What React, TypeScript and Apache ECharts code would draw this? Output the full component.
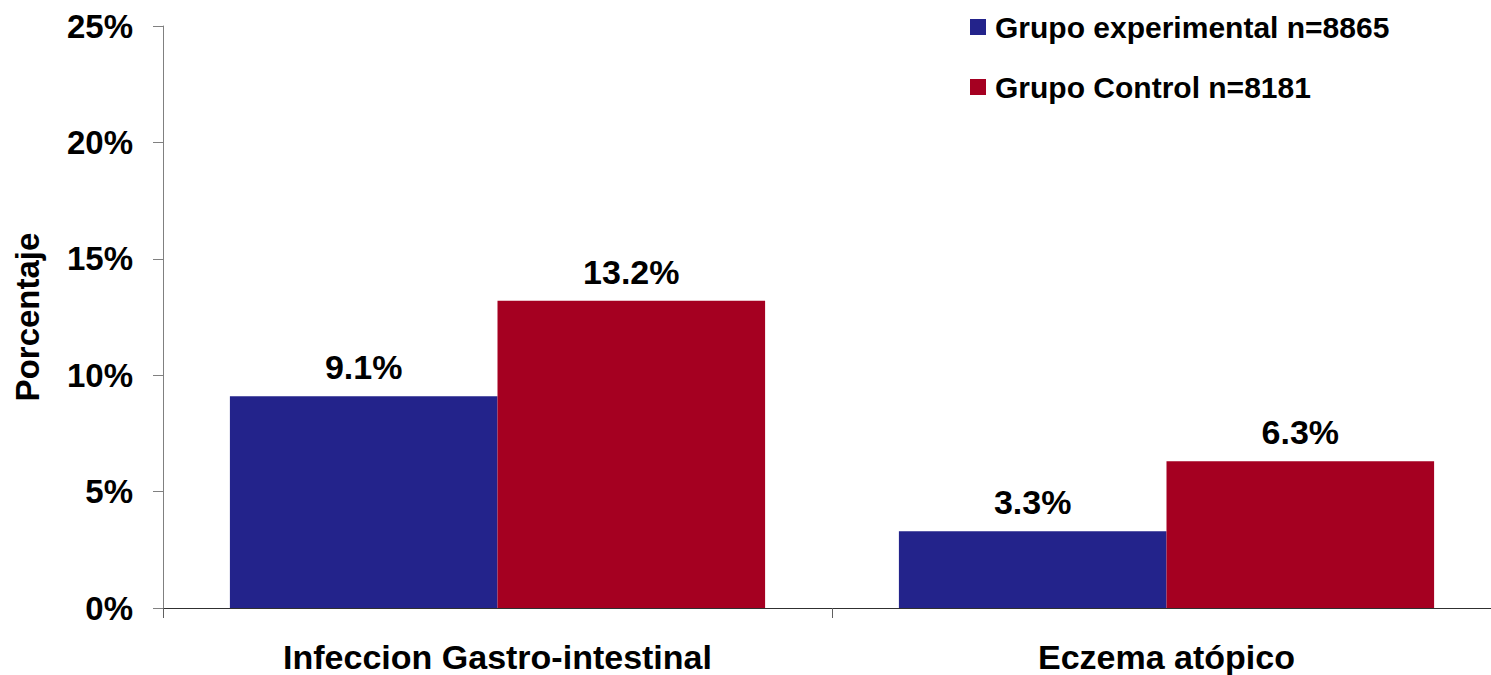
import React, { useEffect, useRef } from "react";
import * as echarts from "echarts";

const categories = ["Infeccion Gastro-intestinal", "Eczema atópico"];
const seriesNames = ["Grupo experimental n=8865", "Grupo Control n=8181"];
const experimental = [9.1, 3.3];
const control = [13.2, 6.3];
const colors = ["#23238B", "#A50021"];

const FONT = "'Liberation Sans', Arial, sans-serif";

export default function App() {
  const ref = useRef<HTMLDivElement>(null);
  useEffect(() => {
    document.body.style.margin = "0";
    const chart = echarts.init(ref.current!, null, { renderer: "svg" });
    const labelStyle = {
      show: true,
      position: "top" as const,
      distance: 12,
      formatter: (p: any) => p.value.toFixed(1) + "%",
      fontFamily: FONT,
      fontWeight: "bold" as const,
      fontSize: 34,
      color: "#000",
    };
    chart.setOption({
      animation: false,
      backgroundColor: "#fff",
      grid: {
        left: 163,
        top: 26,
        bottom: 67,
        right: -10,
        containLabel: false,
        outerBoundsMode: "none",
      },
      legend: {
        orient: "vertical",
        left: 970,
        top: 12,
        padding: 0,
        icon: "rect",
        itemWidth: 16,
        itemHeight: 16,
        itemGap: 30,
        textStyle: {
          fontFamily: FONT,
          fontWeight: "bold",
          fontSize: 30,
          lineHeight: 30,
          color: "#000",
          padding: [0, 0, 0, 4],
        },
        data: seriesNames,
      },
      xAxis: {
        type: "category",
        data: categories,
        axisLine: { lineStyle: { color: "#303030", width: 1 } },
        axisTick: { show: true, length: 10, lineStyle: { color: "#606060" } },
        axisLabel: {
          margin: 32,
          fontFamily: FONT,
          fontWeight: "bold",
          fontSize: 34,
          lineHeight: 34,
          color: "#000",
        },
      },
      yAxis: {
        type: "value",
        min: 0,
        max: 25,
        interval: 5,
        name: "Porcentaje",
        nameLocation: "middle",
        nameGap: 119,
        nameRotate: 90,
        nameTextStyle: {
          fontFamily: FONT,
          fontWeight: "bold",
          fontSize: 33,
          color: "#000",
        },
        axisLine: { show: true, lineStyle: { color: "#808080", width: 1 } },
        axisTick: { show: true, length: 10, lineStyle: { color: "#808080" } },
        splitLine: { show: false },
        axisLabel: {
          margin: 30,
          formatter: "{value}%",
          fontFamily: FONT,
          fontWeight: "bold",
          fontSize: 33,
          color: "#000",
        },
      },
      series: [
        {
          name: seriesNames[0],
          type: "bar",
          data: experimental,
          itemStyle: { color: colors[0] },
          barGap: "0%",
          barCategoryGap: "20%",
          label: labelStyle,
        },
        {
          name: seriesNames[1],
          type: "bar",
          data: control,
          itemStyle: { color: colors[1] },
          barGap: "0%",
          barCategoryGap: "20%",
          label: labelStyle,
        },
      ],
    });
    return () => chart.dispose();
  }, []);
  return (
    <div
      ref={ref}
      style={{ position: "absolute", left: 0, top: 0, width: 1491, height: 675 }}
    />
  );
}
